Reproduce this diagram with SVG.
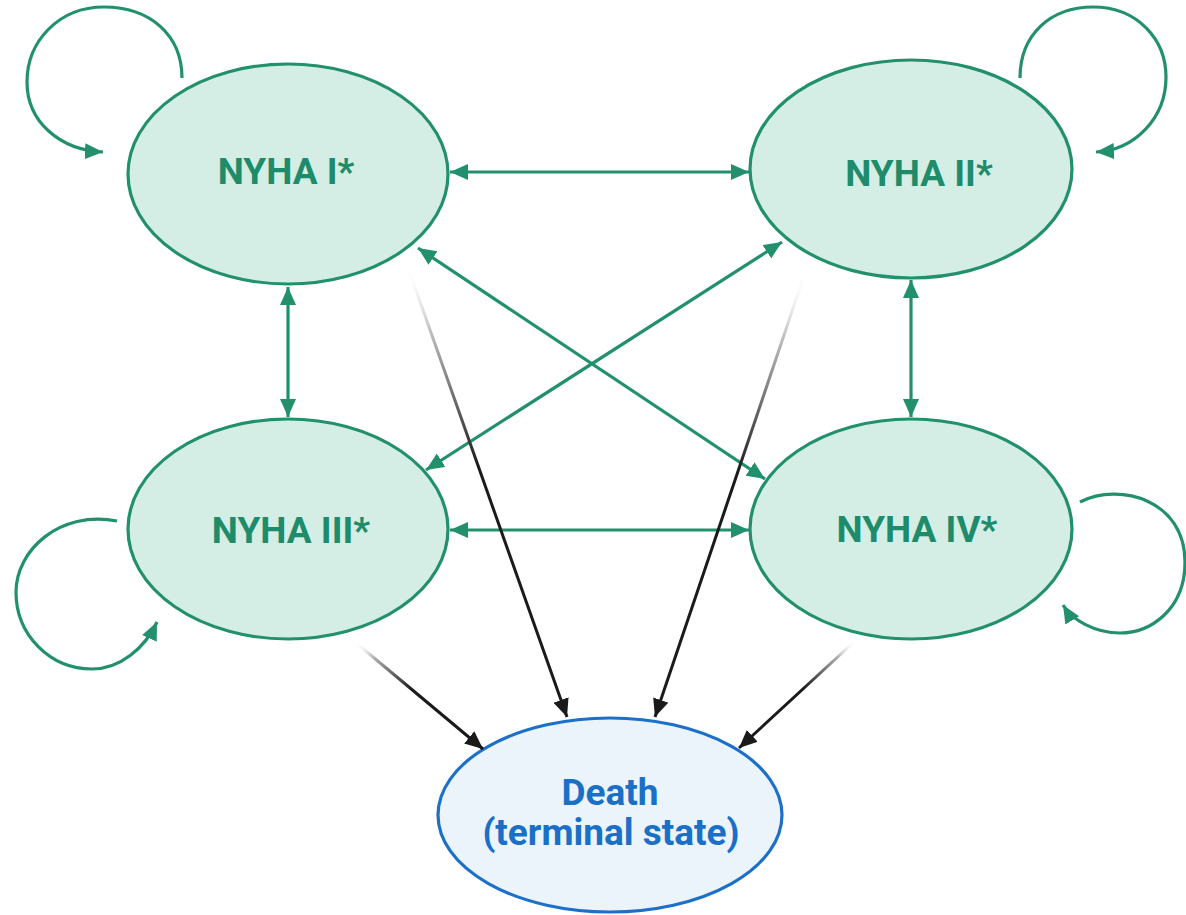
<svg xmlns="http://www.w3.org/2000/svg" width="1186" height="915" viewBox="0 0 1186 915">
  <style>
    .state ellipse { fill: #d4ede5; stroke: #22906d; stroke-width: 3.2; }
    .state text { font-family: Roboto, "Liberation Sans", sans-serif; font-weight: bold; font-size: 37px; fill: #1e8c6a; text-anchor: middle; }
    .terminal ellipse { fill: #ebf3fb; stroke: #1c70c8; stroke-width: 3.2; }
    .terminal text { font-family: Roboto, "Liberation Sans", sans-serif; font-weight: bold; font-size: 37px; fill: #1a6fc6; text-anchor: middle; }
    .link { fill: none; stroke: #22906d; stroke-width: 3.2; }
    .both { marker-start: url(#head-green); marker-end: url(#head-green); }
    .loop { fill: none; stroke: #22906d; stroke-width: 3.2; marker-end: url(#head-green); }
    .death { fill: none; stroke-width: 3; marker-end: url(#head-black); }
  </style>
  <defs>
    <marker id="head-green" markerUnits="userSpaceOnUse" markerWidth="20" markerHeight="18" refX="18" refY="8" orient="auto-start-reverse">
      <path d="M0,0 L18,8 L0,16 z" fill="#22906d"/>
    </marker>
    <marker id="head-black" markerUnits="userSpaceOnUse" markerWidth="20" markerHeight="18" refX="18" refY="8" orient="auto">
      <path d="M0,0 L18,8 L0,16 z" fill="#1a1a1a"/>
    </marker>
    <linearGradient id="fade-1" gradientUnits="userSpaceOnUse" x1="406" y1="262" x2="567" y2="717">
      <stop offset="0" stop-color="#ffffff" stop-opacity="0"/>
      <stop offset="0.15" stop-color="#c0c0c0"/>
      <stop offset="0.45" stop-color="#1a1a1a"/>
      <stop offset="1" stop-color="#1a1a1a"/>
    </linearGradient>
    <linearGradient id="fade-2" gradientUnits="userSpaceOnUse" x1="806" y1="270" x2="655" y2="717">
      <stop offset="0" stop-color="#ffffff" stop-opacity="0"/>
      <stop offset="0.15" stop-color="#c0c0c0"/>
      <stop offset="0.45" stop-color="#1a1a1a"/>
      <stop offset="1" stop-color="#1a1a1a"/>
    </linearGradient>
    <linearGradient id="fade-3" gradientUnits="userSpaceOnUse" x1="355" y1="642" x2="483" y2="749">
      <stop offset="0" stop-color="#ffffff" stop-opacity="0"/>
      <stop offset="0.15" stop-color="#b0b0b0"/>
      <stop offset="0.45" stop-color="#1a1a1a"/>
      <stop offset="1" stop-color="#1a1a1a"/>
    </linearGradient>
    <linearGradient id="fade-4" gradientUnits="userSpaceOnUse" x1="855" y1="641" x2="739" y2="748">
      <stop offset="0" stop-color="#ffffff" stop-opacity="0"/>
      <stop offset="0.15" stop-color="#b0b0b0"/>
      <stop offset="0.45" stop-color="#1a1a1a"/>
      <stop offset="1" stop-color="#1a1a1a"/>
    </linearGradient>
  </defs>

  <!-- state nodes -->
  <g id="nyha-1" class="state">
    <ellipse cx="288" cy="174" rx="160" ry="110"/>
    <text x="286" y="184">NYHA I*</text>
  </g>
  <g id="nyha-2" class="state">
    <ellipse cx="911" cy="169" rx="161" ry="109"/>
    <text x="919" y="186">NYHA II*</text>
  </g>
  <g id="nyha-3" class="state">
    <ellipse cx="288" cy="529" rx="160" ry="110"/>
    <text x="291" y="543">NYHA III*</text>
  </g>
  <g id="nyha-4" class="state">
    <ellipse cx="911" cy="529" rx="161" ry="110"/>
    <text x="917" y="542">NYHA IV*</text>
  </g>
  <g id="death" class="terminal">
    <ellipse cx="610" cy="815" rx="172" ry="97"/>
    <text x="610" y="805">Death</text>
    <text x="611" y="845">(terminal state)</text>
  </g>

  <!-- transitions -->
  <g id="connectors">
    <!-- two-way transitions between classes -->
    <line class="link both" x1="450" y1="172" x2="749" y2="172"/>
    <line class="link both" x1="450" y1="530" x2="749" y2="530"/>
    <line class="link both" x1="288" y1="287" x2="288" y2="417"/>
    <line class="link both" x1="911" y1="280" x2="911" y2="417"/>
    <line class="link both" x1="418" y1="248" x2="765" y2="479"/>
    <line class="link both" x1="782" y1="242" x2="426" y2="470"/>

    <!-- staying in the same class -->
    <path class="loop" d="M182,78 C182,35 150,7 104,7 C58,7 27,42 27,82 C27,122 60,150 103,152"/>
    <path class="loop" d="M1020,78 C1020,35 1050,7 1093,7 C1138,7 1166,40 1166,77 C1166,118 1135,150 1096,152"/>
    <path class="loop" d="M117,521 C60,510 16,550 16,592 C16,635 50,669 92,669 C120,669 145,648 157,622"/>
    <path class="loop" d="M1080,502 C1120,482 1185,500 1185,562 C1185,610 1150,633 1120,633 C1095,633 1072,620 1063,605"/>

    <!-- transitions to death -->
    <line class="death" stroke="url(#fade-1)" x1="406" y1="262" x2="567" y2="717"/>
    <line class="death" stroke="url(#fade-2)" x1="806" y1="270" x2="655" y2="717"/>
    <line class="death" stroke="url(#fade-3)" x1="355" y1="642" x2="483" y2="749"/>
    <line class="death" stroke="url(#fade-4)" x1="855" y1="641" x2="739" y2="748"/>
  </g>
</svg>
